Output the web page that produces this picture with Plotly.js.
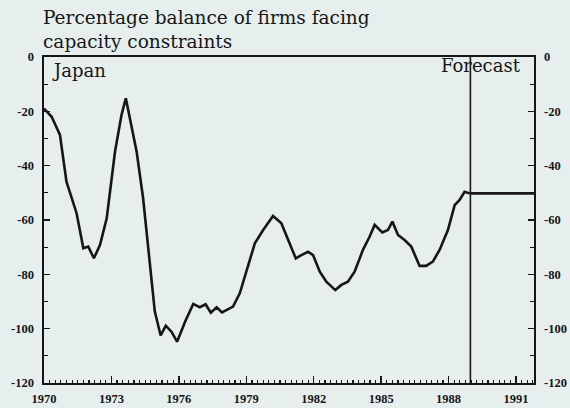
<!DOCTYPE html>
<html>
<head>
<meta charset="utf-8">
<script src="https://cdn.plot.ly/plotly-3.0.1.min.js"></script>
<style>html,body{margin:0;padding:0;background:#e6eeee;}#chart{width:570px;height:408px;}</style>
</head>
<body>
<div id="chart"></div>
<script>
// Historical series (decimal years, percentage balance)
var histYears = [1970.0, 1970.34, 1970.71, 1971.0, 1971.45, 1971.75, 1971.97, 1972.22, 1972.49, 1972.79,
  1973.16, 1973.45, 1973.64, 1974.12, 1974.41, 1974.64, 1974.93, 1975.19, 1975.42, 1975.67,
  1975.92, 1976.3, 1976.64, 1976.93, 1977.19, 1977.42, 1977.68, 1977.92, 1978.41, 1978.71,
  1979.08, 1979.38, 1979.75, 1979.97, 1980.19, 1980.56, 1980.86, 1981.2, 1981.45, 1981.75,
  1981.97, 1982.27, 1982.56, 1982.96, 1983.23, 1983.52, 1983.82, 1984.19, 1984.49, 1984.71,
  1985.05, 1985.3, 1985.5, 1985.75, 1986.04, 1986.34, 1986.71, 1987.0, 1987.3, 1987.6,
  1987.97, 1988.27, 1988.49, 1988.71, 1988.93];
var histValues = [-19, -22, -28.7, -45.9, -57.5, -70.4, -69.8, -74.1, -69.2, -59.4,
  -34.8, -21.3, -15.2, -34.8, -52, -71.7, -93.7, -102.5, -98.9, -101.1,
  -104.8, -97, -90.9, -92.1, -91, -94.1, -92.1, -94, -91.9, -87,
  -77.2, -68.6, -63.7, -61.2, -58.5, -61.2, -67.4, -74.1, -72.9, -71.7,
  -72.9, -79, -82.7, -85.8, -83.9, -82.7, -79, -71, -66.1, -61.8,
  -64.6, -63.7, -60.6, -65.5, -67.4, -69.8, -76.9, -76.9, -75.3, -71,
  -63.7, -54.5, -52.6, -49.6, -50.2];
// Forecast
var forecastStart = 1988.97;
var forecastYears = [1988.93, 1991.8];
var forecastValues = [-50.2, -50.2];
// Axes
var xRange = [1970, 1991.8];
var yRange = [-120, 0];
var xTickVals = [1970, 1973, 1976, 1979, 1982, 1985, 1988, 1991];
var xTickText = ['1970', '1973', '1976', '1979', '1982', '1985', '1988', '1991'];
var yTickVals = [0, -20, -40, -60, -80, -100, -120];
var yTickText = ['0', '-20', '-40', '-60', '-80', '-100', '-120'];
var titleLines = ['Percentage balance of firms facing', 'capacity constraints'];
var labelJapan = 'Japan';
var labelForecast = 'Forecast';

var ink = '#161616';
var bg = '#e6eeee';
var tickFont = {family: 'Liberation Serif', size: 12.5, color: ink, weight: 'bold'};
var textFont = {family: 'DejaVu Serif', size: 18, color: ink};

var traces = [
  {x: histYears, y: histValues, type: 'scatter', mode: 'lines',
   line: {color: ink, width: 2.6, shape: 'linear'}, hoverinfo: 'skip', showlegend: false},
  {x: forecastYears, y: forecastValues, type: 'scatter', mode: 'lines', yaxis: 'y2',
   line: {color: ink, width: 2.6}, hoverinfo: 'skip', showlegend: false}
];

var yCommon = {
  range: yRange, tickmode: 'array', tickvals: yTickVals, ticktext: yTickText,
  ticks: 'inside', ticklen: 6, tickwidth: 1.5, tickcolor: ink,
  showline: true, linecolor: ink, linewidth: 1.6, showgrid: false, zeroline: false,
  tickfont: tickFont, ticklabelstandoff: 6, fixedrange: true,
  minor: {dtick: 10, ticks: 'inside', ticklen: 4, tickwidth: 1.3, tickcolor: ink, showgrid: false}
};

var layout = {
  width: 570, height: 408,
  margin: {l: 44, r: 36, t: 57, b: 25},
  paper_bgcolor: bg, plot_bgcolor: bg,
  showlegend: false,
  xaxis: {
    range: xRange, tickmode: 'array', tickvals: xTickVals, ticktext: xTickText,
    ticks: 'inside', ticklen: 7, tickwidth: 1.5, tickcolor: ink,
    showline: true, mirror: true, linecolor: ink, linewidth: 1.6,
    showgrid: false, zeroline: false, tickfont: tickFont, ticklabelstandoff: 3,
    fixedrange: true,
    minor: {dtick: 0.25, tick0: 1970, ticks: 'inside', ticklen: 3, tickwidth: 1.2, tickcolor: ink, showgrid: false}
  },
  yaxis: Object.assign({}, yCommon, {side: 'left'}),
  yaxis2: Object.assign({}, yCommon, {side: 'right', overlaying: 'y'}),
  shapes: [
    {type: 'line', xref: 'x', yref: 'paper', x0: forecastStart, x1: forecastStart, y0: 0, y1: 1,
     line: {color: ink, width: 1.6}}
  ],
  annotations: [
    {text: titleLines.join('<br>'), xref: 'paper', yref: 'paper', x: -0.006, y: (383 - 29) / 326,
     xanchor: 'left', yanchor: 'middle', align: 'left', showarrow: false,
     font: {family: 'DejaVu Serif', size: 18.5, color: ink}},
    {text: labelJapan, xref: 'paper', yref: 'paper', x: 0.012, y: (383 - 71) / 326,
     xanchor: 'left', yanchor: 'middle', showarrow: false, font: textFont},
    {text: labelForecast, xref: 'paper', yref: 'paper', x: (523 - 44) / 490, y: (383 - 66) / 326,
     xanchor: 'right', yanchor: 'middle', showarrow: false, font: textFont}
  ]
};

Plotly.newPlot('chart', traces, layout, {displayModeBar: false, staticPlot: true});
</script>
</body>
</html>
